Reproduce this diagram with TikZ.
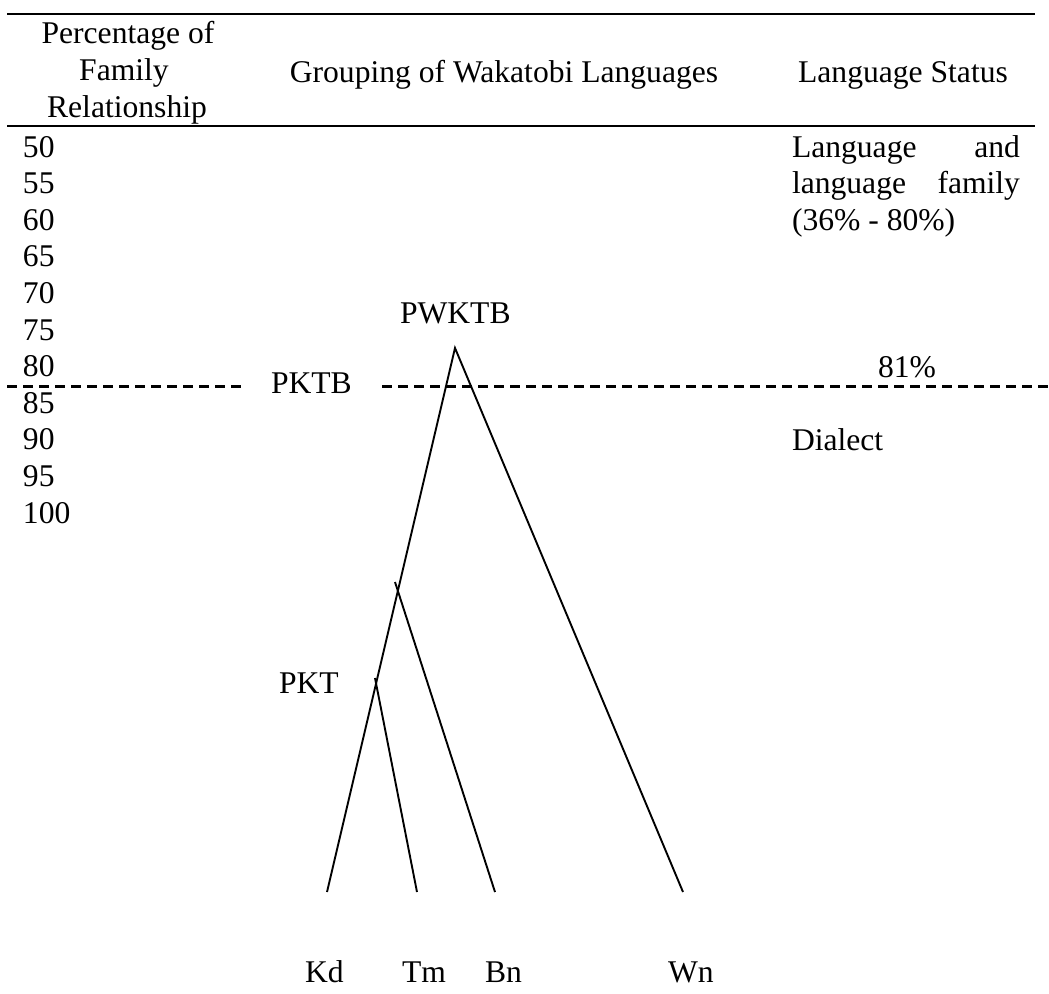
\documentclass[tikz,border=0pt]{standalone}
\usepackage{fontspec}
\setmainfont{Liberation Serif}
\begin{document}
\begin{tikzpicture}[x=1pt,y=-1pt,
  lbl/.style={inner sep=0pt, outer sep=0pt, font=\fontsize{31.6}{36.6}\selectfont},
  rulebar/.style={line width=2.7pt},
  branch/.style={line width=1.9pt, line join=miter},
  cutline/.style={line width=3pt, dash pattern=on 10pt off 6pt}]
\useasboundingbox (0,0) rectangle (1049,993);
% table rules
\coordinate (r1a) at (7,14);
\coordinate (r1b) at (1035,14);
\coordinate (r2a) at (7,126);
\coordinate (r2b) at (1035,126);
\draw[rulebar] (r1a) -- (r1b);
\draw[rulebar] (r2a) -- (r2b);
% header
\node[lbl, anchor=base] (h1a) at (128,43) {Percentage of};
\node[lbl, anchor=base] (h1b) at (124,80) {Family};
\node[lbl, anchor=base] (h1c) at (127,117) {Relationship};
\node[lbl, anchor=base] (h2) at (504,82) {Grouping of Wakatobi Languages};
\node[lbl, anchor=base] (h3) at (903,82) {Language Status};
% percentage scale
\foreach \v [count=\i from 0] in {50,55,60,65,70,75,80,85,90,95,100}
  \node[lbl, anchor=base west] (n\v) at (23,{157+36.6*\i}) {\v};
% language status column
\node[lbl, anchor=base west] (s1a) at (792,157) {Language};
\node[lbl, anchor=base east] (s1b) at (1020,157) {and};
\node[lbl, anchor=base west] (s2a) at (792,193) {language};
\node[lbl, anchor=base east] (s2b) at (1020,193) {family};
\node[lbl, anchor=base west] (s3) at (792,230) {(36\% - 80\%)};
\node[lbl, anchor=base west] (p81) at (878,377) {81\%};
\node[lbl, anchor=base west] (dia) at (792,450) {Dialect};
% tree labels
\node[lbl, anchor=base west] (pwktb) at (400,323) {PWKTB};
\node[lbl, anchor=base west] (pktb) at (271,393) {PKTB};
\node[lbl, anchor=base west] (pkt) at (279,693) {PKT};
\node[lbl, anchor=base west] (kd) at (305,982) {Kd};
\node[lbl, anchor=base west] (tm) at (402,982) {Tm};
\node[lbl, anchor=base west] (bn) at (485,982) {Bn};
\node[lbl, anchor=base west] (wn) at (668,982) {Wn};
% dashed threshold line
\coordinate (d1) at (7,386);
\coordinate (d2) at (241,386);
\coordinate (d3) at (382,386);
\coordinate (d4) at (1049,386);
\draw[cutline] (d1) -- (d2);
\draw[cutline] (d3) -- (d4);
% tree
\coordinate (top) at (455,348);
\coordinate (kdend) at (327,892);
\coordinate (wnend) at (683,892);
\coordinate (bnstart) at (395,582);
\coordinate (bnend) at (495,892);
\coordinate (tmstart) at (375,678);
\coordinate (tmend) at (417,892);
\draw[branch] (kdend) -- (top) -- (wnend);
\draw[branch] (bnstart) -- (bnend);
\draw[branch] (tmstart) -- (tmend);
\end{tikzpicture}
\end{document}
